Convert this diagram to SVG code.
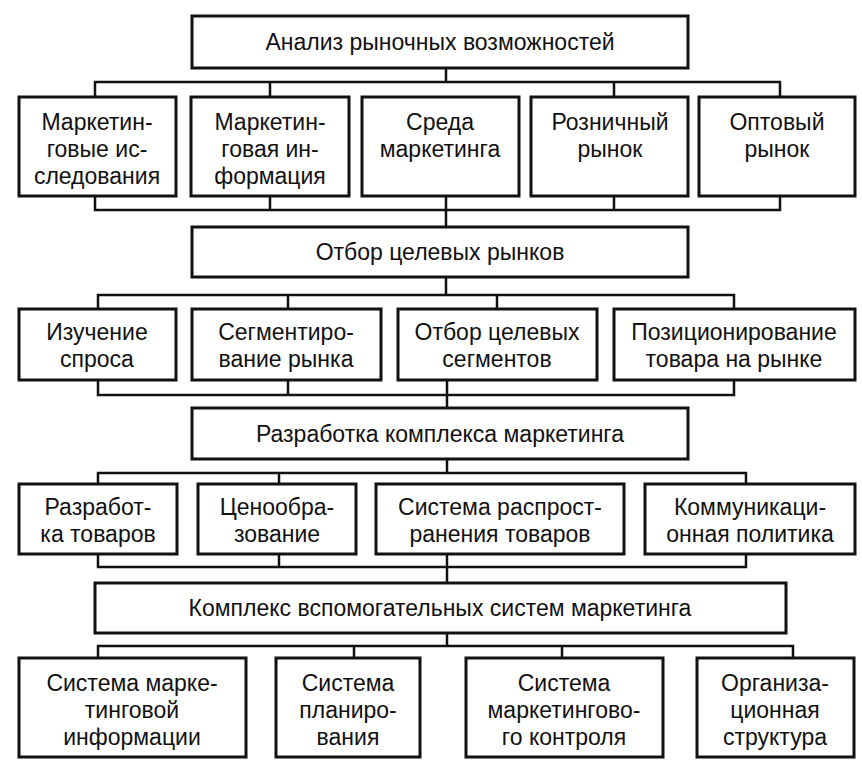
<svg xmlns="http://www.w3.org/2000/svg" width="862" height="768" viewBox="0 0 862 768">
<style>
rect{fill:#fff;stroke:#111;stroke-width:3}
.c path{fill:none;stroke:#111;stroke-width:2.5}
text{font-family:"Liberation Sans Narrow","Liberation Sans",Arial,sans-serif;font-size:23px;fill:#111;text-anchor:middle}
</style>
<rect x="0" y="0" width="862" height="768" style="stroke:none"/>
<g class="c" id="connectors">
<path d="M446 68V82M95 97V82H780V97M270 82V97M614 82V97"/>
<path d="M95 196V210H780V196M270 196V210M614 196V210M446 196V227"/>
<path d="M446 277V295M98 309V295H734V309M288 295V309M497 295V309"/>
<path d="M98 380V395H734V380M288 380V395M447 380V408"/>
<path d="M447 459V473M98 484V473H746V484M279 473V484"/>
<path d="M98 554V567H746V554M279 554V567M447 554V583"/>
<path d="M447 633V646M98 658V646H793V658M354 646V658M562 646V658"/>
</g>
<g id="n1"><rect x="192" y="16" width="496" height="52"/><text x="440" y="50">Анализ рыночных возможностей</text></g>
<g id="n2"><rect x="19" y="97" width="157" height="99"/><text x="97" y="130">Маркетин-</text><text x="97" y="157">говые ис-</text><text x="97" y="184">следования</text></g>
<g id="n3"><rect x="191" y="97" width="158" height="99"/><text x="270" y="130">Маркетин-</text><text x="270" y="157">говая ин-</text><text x="270" y="184">формация</text></g>
<g id="n4"><rect x="362" y="97" width="157" height="99"/><text x="440" y="130">Среда</text><text x="440" y="157">маркетинга</text></g>
<g id="n5"><rect x="531" y="97" width="157" height="99"/><text x="610" y="130">Розничный</text><text x="610" y="157">рынок</text></g>
<g id="n6"><rect x="699" y="97" width="156" height="99"/><text x="777" y="130">Оптовый</text><text x="777" y="157">рынок</text></g>
<g id="n7"><rect x="192" y="227" width="496" height="50"/><text x="440" y="260">Отбор целевых рынков</text></g>
<g id="n8"><rect x="19" y="309" width="157" height="71"/><text x="97" y="340">Изучение</text><text x="97" y="367">спроса</text></g>
<g id="n9"><rect x="192" y="309" width="189" height="71"/><text x="286" y="340">Сегментиро-</text><text x="286" y="367">вание рынка</text></g>
<g id="n10"><rect x="398" y="309" width="199" height="71"/><text x="497" y="340">Отбор целевых</text><text x="497" y="367">сегментов</text></g>
<g id="n11"><rect x="614" y="309" width="241" height="71"/><text x="734" y="340">Позиционирование</text><text x="734" y="367">товара на рынке</text></g>
<g id="n12"><rect x="192" y="408" width="496" height="51"/><text x="440" y="442">Разработка  комплекса маркетинга</text></g>
<g id="n13"><rect x="19" y="484" width="158" height="70"/><text x="98" y="515">Разработ-</text><text x="98" y="542">ка товаров</text></g>
<g id="n14"><rect x="198" y="484" width="158" height="70"/><text x="277" y="515">Ценообра-</text><text x="277" y="542">зование</text></g>
<g id="n15"><rect x="376" y="484" width="248" height="70"/><text x="500" y="515">Система распрост-</text><text x="500" y="542">ранения товаров</text></g>
<g id="n16"><rect x="645" y="484" width="210" height="70"/><text x="750" y="515">Коммуникаци-</text><text x="750" y="542">онная политика</text></g>
<g id="n17"><rect x="95" y="583" width="691" height="50"/><text x="440" y="616">Комплекс вспомогательных систем маркетинга</text></g>
<g id="n18"><rect x="19" y="658" width="227" height="99"/><text x="132" y="691">Система марке-</text><text x="132" y="718">тинговой</text><text x="132" y="745">информации</text></g>
<g id="n19"><rect x="276" y="658" width="144" height="99"/><text x="348" y="691">Система</text><text x="348" y="718">планиро-</text><text x="348" y="745">вания</text></g>
<g id="n20"><rect x="466" y="658" width="197" height="99"/><text x="564" y="691">Система</text><text x="564" y="718">маркетингово-</text><text x="564" y="745">го контроля</text></g>
<g id="n21"><rect x="697" y="658" width="157" height="99"/><text x="775" y="691">Организа-</text><text x="775" y="718">ционная</text><text x="775" y="745">структура</text></g>
</svg>
